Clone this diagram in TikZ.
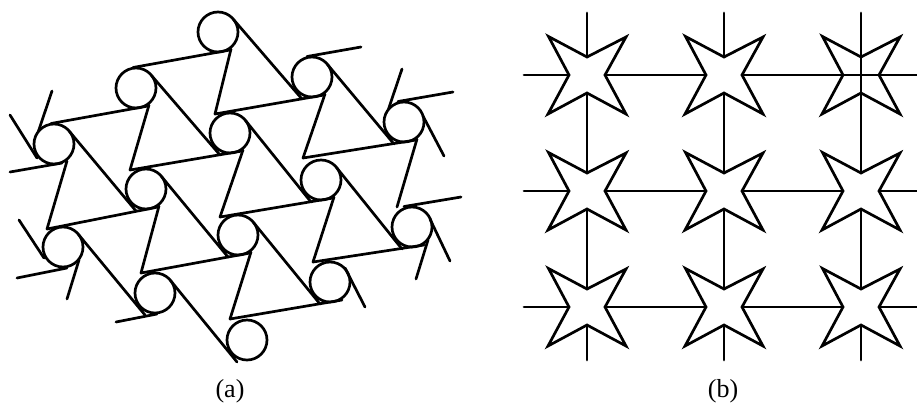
\documentclass[tikz,border=0pt]{standalone}
\usepackage{fontspec}
\setmainfont{Liberation Serif}
\usetikzlibrary{calc}
\tikzset{
  ink/.style={line width=2.7pt,black,line cap=round,line join=miter},
  starshape/.style={ink,fill=white},
  caption/.style={font=\fontsize{26}{29}\selectfont,inner sep=0pt}
}
\begin{document}
\begin{tikzpicture}[x=1pt,y=-1pt]
\useasboundingbox (0,0) rectangle (917,405);
% (a) circle centres
\foreach \n/\x/\y in {2-0/218/32,1-0/136/88,0-0/54/144,2-1/312/77,1-1/230/133,0-1/146/189,
  m1-1/63/247,2-2/404/122,1-2/321/180,0-2/238/235,m1-2/155/293,1-3/412/227,0-3/330/282,m1-3/247/340}
  \coordinate (c\n) at (\x,\y);
% d1 ligaments: start offset on the first circle, end on the second
\foreach \a/\b/\sx/\sy in {0-0/1-0/-3/-20.5,1-0/2-0/-3/-20.5,m1-1/0-1/-16/-18,0-1/1-1/-16/-19,1-1/2-1/-15/-19,
  m1-2/0-2/-14/-20,0-2/1-2/-18/-18,1-2/2-2/-18/-22,m1-3/0-3/-17/-21,0-3/1-3/-17/-20}
  \draw[ink] ($(c\a)+(\sx,\sy)$) -- ($(c\b)+(12,18)$);
% d2 ligaments
\foreach \a/\b in {2-0/2-1,2-1/2-2,1-0/1-1,1-1/1-2,1-2/1-3,0-0/0-1,0-1/0-2,0-2/0-3,m1-1/m1-2,m1-2/m1-3}
  \draw[ink] ($(c\a)+(15.5,-12.5)$) -- ($(c\b)+(-10,22)$);
% d3 ligaments: end offset on the second circle
\foreach \a/\b/\ex/\ey in {2-0/1-1/-15/-19,1-1/0-2/-18/-18,0-2/m1-3/-17/-21,1-0/0-1/-16/-19,0-1/m1-2/-14/-20,
  0-0/m1-1/-16/-18,2-1/1-2/-18/-22,1-2/0-3/-17/-20,2-2/1-3/-15/-20}
  \draw[ink] ($(c\a)+(13,17)$) -- ($(c\b)+(\ex,\ey)$);
% free stubs
\foreach \a/\sx in {2-1/-5,2-2/-6,1-3/-8}
  \draw[ink] ($(c\a)+(\sx,-20.5)$) -- ($(c\a)+(49,-30)$);
\foreach \a/\fx/\fy/\nx/\ny in {0-0/-44/28/8/19,m1-1/-46/31/4/21,m1-2/-39/29/2/21}
  \draw[ink] ($(c\a)+(\fx,\fy)$) -- ($(c\a)+(\nx,\ny)$);
\foreach \a/\fx/\fy/\nx/\ny in {0-0/-44/-29/-17/14,m1-1/-44/-27/-19/11}
  \draw[ink] ($(c\a)+(\fx,\fy)$) -- ($(c\a)+(\nx,\ny)$);
\foreach \a/\nx/\ny/\fx/\fy in {2-2/19/-6/40/34,1-3/18/-8/38/34,0-3/15/-14/35/25}
  \draw[ink] ($(c\a)+(\nx,\ny)$) -- ($(c\a)+(\fx,\fy)$);
\foreach \a in {0-0,2-2}
  \draw[ink] ($(c\a)+(-15.5,-13)$) -- ($(c\a)+(-2,-53)$);
\foreach \a in {m1-1,1-3}
  \draw[ink] ($(c\a)+(16,13)$) -- ($(c\a)+(4,52)$);
% circles
\foreach \n in {2-0,1-0,0-0,2-1,1-1,0-1,m1-1,2-2,1-2,0-2,m1-2,1-3,0-3,m1-3}
  \draw[ink] (c\n) circle[radius=20];
% (b) grid
\foreach \x in {587,724,861}
  \draw[ink] (\x,13) -- (\x,360);
\foreach \y in {75,191,307}
  \draw[ink] (524,\y) -- (917,\y);
\foreach \x in {587,724,861}
  \foreach \y in {75,191,307}
    \draw[starshape,shift={(\x,\y)}] (-38.5,-38.5) -- (0,-18) -- (39,-38) -- (18,0) -- (39,39) -- (0,18) -- (-39,39) -- (-18,0) -- cycle;
% the upper right star leaves its crossing lines visible
\draw[ink] (861,57) -- (861,93);
\draw[ink] (843,75) -- (879,75);
\node[caption] (capa) at (230,391) {(a)};
\node[caption] (capb) at (723,391) {(b)};
\end{tikzpicture}
\end{document}
